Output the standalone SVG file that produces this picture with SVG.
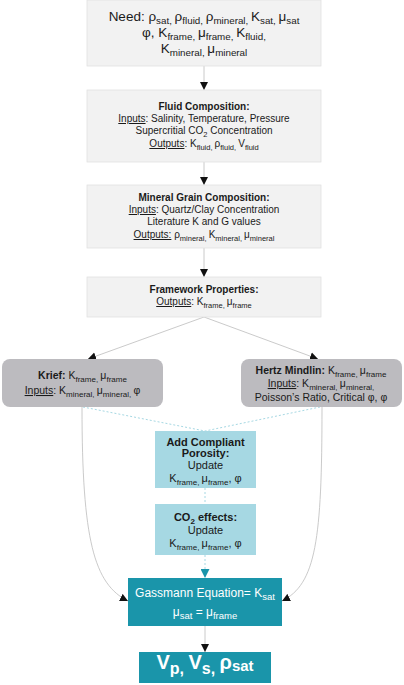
<svg xmlns="http://www.w3.org/2000/svg" width="404" height="685" viewBox="0 0 404 685">
<defs>
<style>
text{font-family:"Liberation Sans",Arial,sans-serif;fill:#1a1a1a;text-anchor:middle}
.gbox{fill:#f2f2f2;stroke:#e2e2e2;stroke-width:0.8}
.mbox{fill:#bcbbbf}
.lbox{fill:#a6d8e3}
.tbox{fill:#1a95aa}
.t10{font-size:10px}
.t105{font-size:10.5px}
.t11{font-size:11px}
.wt{fill:#ffffff}
.b{font-weight:bold}
.u{text-decoration:underline}
.conn{fill:none;stroke:#c4c4c4;stroke-width:0.9}
.dot{fill:none;stroke:#a6d8e3;stroke-width:1;stroke-dasharray:2,2}
</style>
<marker id="ah" viewBox="0 0 10 10" refX="10" refY="5" markerWidth="8" markerHeight="9" markerUnits="userSpaceOnUse" orient="auto">
<path d="M0,0 L10,5 L0,10 z" fill="#111"/>
</marker>
<marker id="aht" viewBox="0 0 10 10" refX="10" refY="5" markerWidth="10" markerHeight="9" markerUnits="userSpaceOnUse" orient="auto">
<path d="M0,0 L10,5 L0,10 z" fill="#1a95aa"/>
</marker>
</defs>
<rect width="404" height="685" fill="#ffffff"/>

<g id="connectors">
<line class="conn" x1="204" y1="66" x2="204" y2="90" marker-end="url(#ah)"/>
<line class="conn" x1="204" y1="162" x2="204" y2="185" marker-end="url(#ah)"/>
<line class="conn" x1="204" y1="248" x2="204" y2="277" marker-end="url(#ah)"/>
<line class="conn" x1="204" y1="317" x2="88" y2="359" marker-end="url(#ah)"/>
<line class="conn" x1="204" y1="317" x2="318" y2="359" marker-end="url(#ah)"/>
<path class="conn" d="M82,407 C82,540 94,584 128,601" marker-end="url(#ah)"/>
<path class="conn" d="M322,407 C322,540 316,584 282,601" marker-end="url(#ah)"/>
<path class="dot" d="M83,407 L205,431"/>
<path class="dot" d="M320,407 L205,431"/>
<line class="dot" x1="205" y1="488" x2="205" y2="504"/>
<line class="dot" x1="205" y1="555" x2="205" y2="578" marker-end="url(#aht)"/>
<line class="conn" x1="205" y1="626" x2="205" y2="652" marker-end="url(#ah)"/>
</g>

<g id="need">
<rect class="gbox" x="87" y="0" width="234" height="66"/>
<text font-size="13.5" x="204" y="21">Need: ρ<tspan font-size="9.8" dy="2.5">sat, </tspan><tspan dy="-2.5">ρ</tspan><tspan font-size="9.8" dy="2.5">fluid, </tspan><tspan dy="-2.5">ρ</tspan><tspan font-size="9.8" dy="2.5">mineral, </tspan><tspan dy="-2.5">K</tspan><tspan font-size="9.8" dy="2.5">sat, </tspan><tspan dy="-2.5">μ</tspan><tspan font-size="9.8" dy="2.5">sat</tspan></text>
<text font-size="13.5" x="204" y="37">φ, K<tspan font-size="9.8" dy="2.5">frame, </tspan><tspan dy="-2.5">μ</tspan><tspan font-size="9.8" dy="2.5">frame, </tspan><tspan dy="-2.5">K</tspan><tspan font-size="9.8" dy="2.5">fluid,</tspan></text>
<text font-size="13.5" x="204" y="53">K<tspan font-size="9.8" dy="2.5">mineral, </tspan><tspan dy="-2.5">μ</tspan><tspan font-size="9.8" dy="2.5">mineral</tspan></text>
</g>

<g id="fluid">
<rect class="gbox" x="87" y="90" width="234" height="72"/>
<text class="t10 b" x="204" y="110">Fluid Composition:</text>
<text class="t10" x="204" y="122"><tspan class="u">Inputs</tspan>: Salinity, Temperature, Pressure</text>
<text class="t10" x="204" y="134">Supercritial CO<tspan font-size="7.5" dy="2.5">2</tspan><tspan dy="-2.5"> Concentration</tspan></text>
<text class="t10" x="204" y="147"><tspan class="u">Outputs</tspan>: K<tspan font-size="7.5" dy="2.5">fluid, </tspan><tspan dy="-2.5">ρ</tspan><tspan font-size="7.5" dy="2.5">fluid, </tspan><tspan dy="-2.5">V</tspan><tspan font-size="7.5" dy="2.5">fluid</tspan></text>
</g>

<g id="mineral">
<rect class="gbox" x="87" y="185" width="234" height="63"/>
<text class="t10 b" x="204" y="201">Mineral Grain Composition:</text>
<text class="t10" x="204" y="213"><tspan class="u">Inputs</tspan>: Quartz/Clay Concentration</text>
<text class="t10" x="204" y="225">Literature K and G values</text>
<text class="t10" x="204" y="238"><tspan class="u">Outputs:</tspan> ρ<tspan font-size="7.5" dy="2.5">mineral, </tspan><tspan dy="-2.5">K</tspan><tspan font-size="7.5" dy="2.5">mineral, </tspan><tspan dy="-2.5">μ</tspan><tspan font-size="7.5" dy="2.5">mineral</tspan></text>
</g>

<g id="framework">
<rect class="gbox" x="87" y="277" width="234" height="40"/>
<text class="t10 b" x="204" y="293">Framework Properties:</text>
<text class="t10" x="204" y="305"><tspan class="u">Outputs</tspan>: K<tspan font-size="7.5" dy="2.5">frame, </tspan><tspan dy="-2.5">μ</tspan><tspan font-size="7.5" dy="2.5">frame</tspan></text>
</g>

<g id="krief">
<rect class="mbox" x="2" y="359" width="161" height="48" rx="8"/>
<text class="t105" x="82.5" y="379"><tspan class="b">Krief:</tspan> K<tspan font-size="8" dy="2.5">frame, </tspan><tspan dy="-2.5">μ</tspan><tspan font-size="8" dy="2.5">frame</tspan></text>
<text class="t105" x="82.5" y="394"><tspan class="u">Inputs</tspan>: K<tspan font-size="8" dy="2.5">mineral, </tspan><tspan dy="-2.5">μ</tspan><tspan font-size="8" dy="2.5">mineral, </tspan><tspan dy="-2.5">φ</tspan></text>
</g>

<g id="hertz">
<rect class="mbox" x="241" y="359" width="161" height="48" rx="8"/>
<text class="t105" x="321" y="374"><tspan class="b">Hertz Mindlin:</tspan> K<tspan font-size="8" dy="2.5">frame, </tspan><tspan dy="-2.5">μ</tspan><tspan font-size="8" dy="2.5">frame</tspan></text>
<text class="t105" x="321" y="387"><tspan class="u">Inputs</tspan>: K<tspan font-size="8" dy="2.5">mineral, </tspan><tspan dy="-2.5">μ</tspan><tspan font-size="8" dy="2.5">mineral,</tspan></text>
<text class="t105" x="321" y="401">Poisson’s Ratio, Critical φ, φ</text>
</g>

<g id="compliant">
<rect class="lbox" x="155" y="431" width="101" height="57"/>
<text class="t11 b" x="205.5" y="446">Add Compliant</text>
<text class="t11 b" x="205.5" y="457">Porosity:</text>
<text class="t11" x="205.5" y="469">Update</text>
<text class="t11" x="205.5" y="482">K<tspan font-size="8" dy="2.5">frame, </tspan><tspan dy="-2.5">μ</tspan><tspan font-size="8" dy="2.5">frame</tspan><tspan dy="-2.5">, φ</tspan></text>
</g>

<g id="co2">
<rect class="lbox" x="155" y="504" width="101" height="51"/>
<text class="t11 b" x="205.5" y="521">CO<tspan font-size="8" dy="2.5">2</tspan><tspan dy="-2.5"> effects:</tspan></text>
<text class="t11" x="205.5" y="534">Update</text>
<text class="t11" x="205.5" y="547">K<tspan font-size="8" dy="2.5">frame, </tspan><tspan dy="-2.5">μ</tspan><tspan font-size="8" dy="2.5">frame</tspan><tspan dy="-2.5">, φ</tspan></text>
</g>

<g id="gassmann">
<rect class="tbox" x="128" y="578" width="154" height="48"/>
<text class="wt" font-size="12" x="205" y="597">Gassmann Equation= K<tspan font-size="9.5" dy="3">sat</tspan></text>
<text class="wt" font-size="12" x="205" y="616">μ<tspan font-size="9.5" dy="3">sat</tspan><tspan dy="-3"> = μ</tspan><tspan font-size="9.5" dy="3">frame</tspan></text>
</g>

<g id="result">
<rect class="tbox" x="139" y="652" width="132" height="31"/>
<text class="wt b" font-size="20" x="205" y="669">V<tspan font-size="16" dy="5">p, </tspan><tspan dy="-5">V</tspan><tspan font-size="16" dy="5">s, </tspan><tspan dy="-5">ρ</tspan><tspan font-size="15" dy="2">sat</tspan></text>
</g>
</svg>
